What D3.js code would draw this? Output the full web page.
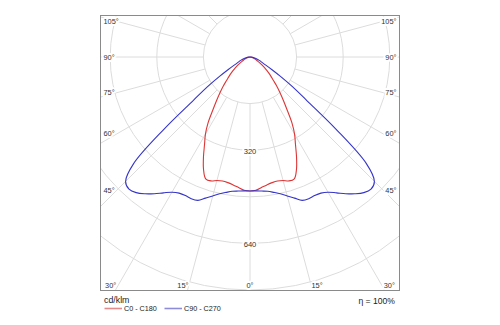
<!DOCTYPE html>
<html>
<head>
<meta charset="utf-8">
<script src="https://cdn.jsdelivr.net/npm/d3@7"></script>
<style>
  html, body { margin: 0; padding: 0; background: #fff; }
  svg { display: block; font-family: "Liberation Sans", Arial, sans-serif; }
</style>
</head>
<body>
<svg id="chart" width="500" height="325"></svg>
<script>
// Luminous intensity distribution, cd/klm, by gamma angle (0 = straight down)
const gammaDeg = [0, 2.5, 5, 7.5, 10, 12.5, 15, 17.5, 20, 22.5, 25, 27.5, 30, 32.5, 35, 37.5,
                  40, 42.5, 45, 47.5, 50, 52.5, 55, 57.5, 60, 65, 70, 75, 80, 85, 90];
const c0c180  = [460, 458, 450, 443, 438, 436, 439, 446, 445, 417, 378, 338, 306, 268, 223, 189,
                 161, 137, 113, 97, 82, 68, 55, 44, 34, 24, 17, 12, 7, 3, 0];
const c90c270 = [460, 460, 462, 465, 472, 481, 494, 508, 524, 527, 525, 527, 536, 553, 573, 592,
                 608, 615, 604, 542, 385, 247, 179, 124, 86, 48, 34, 21, 12, 5, 0];

const seriesNames  = ["C0 - C180", "C90 - C270"];
const seriesColors = ["#dd3535", "#3535c8"];
const legendColors = ["#e48a8a", "#8c8cd8"];

const ringValues   = [160, 320, 480, 640, 800, 960];
const ringLabels   = [320, 640];
const rayAngles    = d3.range(0, 181, 15);
const unitLabel    = "cd/klm";
const efficiency   = "η = 100%";

const svg = d3.select("#chart");
const frame = { x0: 100.5, y0: 15.5, x1: 399.5, y1: 290.5 };
const cx = 250, cy = 57;
const r = d3.scaleLinear().domain([0, 800]).range([0, 233]);

svg.append("defs").append("clipPath").attr("id", "frameClip")
  .append("rect")
  .attr("x", frame.x0).attr("y", frame.y0)
  .attr("width", frame.x1 - frame.x0).attr("height", frame.y1 - frame.y0);

const grid = svg.append("g").attr("clip-path", "url(#frameClip)")
  .append("g").attr("transform", `translate(${cx},${cy})`);

// concentric rings
grid.selectAll("circle.ring").data(ringValues).join("circle")
  .attr("class", "ring")
  .attr("r", d => r(d))
  .attr("fill", "none").attr("stroke", "#dcdcdc").attr("stroke-width", 1);

// radial spokes, both halves, starting at the innermost ring
const toRad = d => d * Math.PI / 180;
const spokes = [];
rayAngles.forEach(g => { spokes.push(g); if (g > 0 && g < 180) spokes.push(-g); });
grid.selectAll("line.spoke").data(spokes).join("line")
  .attr("class", "spoke")
  .attr("x1", g => r(ringValues[0]) * Math.sin(toRad(g)))
  .attr("y1", g => r(ringValues[0]) * Math.cos(toRad(g)))
  .attr("x2", g => r(1400) * Math.sin(toRad(g)))
  .attr("y2", g => r(1400) * Math.cos(toRad(g)))
  .attr("stroke", "#dcdcdc").attr("stroke-width", 1);

// ring value labels on the vertical axis
grid.selectAll("text.ringlbl").data(ringLabels).join("text")
  .attr("class", "ringlbl")
  .attr("x", 0).attr("y", d => r(d) + 1)
  .attr("text-anchor", "middle").attr("dominant-baseline", "central")
  .attr("font-size", 7.6).attr("fill", "#333")
  .attr("stroke", "#fff").attr("stroke-width", 4).attr("paint-order", "stroke")
  .text(d => d);

// angle labels where the spokes leave the frame
const angleLbl = svg.append("g").attr("font-size", 7.4).attr("fill", "#333");
const bottomDy = frame.y1 - cy;
spokes.forEach(g => {
  const a = Math.abs(toRad(g));
  const side = g < 0 ? -1 : 1;
  const bx = Math.tan(a) * bottomDy;
  let x, y, anchor;
  if (a < Math.PI / 2 && bx < (frame.x1 - cx - 5)) {
    x = cx + side * (bx + (g === 0 ? 0 : 4.5));
    y = frame.y1 - 5.5;
    anchor = "middle";
  } else {
    y = cy + 133 / Math.tan(a);
    if (y < frame.y0 + 5 || y > frame.y1 - 12) return;
    x = side > 0 ? frame.x1 - 3 : frame.x0 + 3;
    anchor = side > 0 ? "end" : "start";
  }
  angleLbl.append("text")
    .attr("x", x).attr("y", y)
    .attr("text-anchor", anchor).attr("dominant-baseline", "central")
    .attr("stroke", "#fff").attr("stroke-width", 4).attr("paint-order", "stroke")
    .text(Math.abs(g) + "°");
});

// frame
svg.append("rect")
  .attr("x", frame.x0).attr("y", frame.y0)
  .attr("width", frame.x1 - frame.x0).attr("height", frame.y1 - frame.y0)
  .attr("fill", "none").attr("stroke", "#8a8a8a").attr("stroke-width", 1);

// distribution curves: left half mirrors the right half
const radial = d3.lineRadial()
  .angle(d => d.a)
  .radius(d => r(d.v))
  .curve(d3.curveCatmullRom.alpha(0.5));

function curvePoints(values) {
  const pts = [];
  for (let i = gammaDeg.length - 1; i >= 0; i--) pts.push({ a: Math.PI + toRad(gammaDeg[i]), v: values[i] });
  for (let i = 1; i < gammaDeg.length; i++) pts.push({ a: Math.PI - toRad(gammaDeg[i]), v: values[i] });
  return pts;
}

const curves = svg.append("g").attr("transform", `translate(${cx},${cy})`);
[c0c180, c90c270].forEach((vals, i) => {
  curves.append("path")
    .attr("d", radial(curvePoints(vals)))
    .attr("fill", "none")
    .attr("stroke", seriesColors[i])
    .attr("stroke-width", 1.1);
});

// legend
svg.append("text").attr("x", 104).attr("y", 303)
  .attr("font-size", 8.8).attr("fill", "#222").text(unitLabel);
svg.append("text").attr("x", 395).attr("y", 303.5)
  .attr("text-anchor", "end").attr("font-size", 8.6).attr("fill", "#222").text(efficiency);

const legendX = [104.5, 164.5];
seriesNames.forEach((name, i) => {
  const g = svg.append("g").attr("transform", `translate(${legendX[i]},308.5)`);
  g.append("line").attr("x1", 0).attr("x2", 17.5).attr("y1", 0).attr("y2", 0)
    .attr("stroke", legendColors[i]).attr("stroke-width", 1.6);
  g.append("text").attr("x", 19.5).attr("y", 2.8).attr("font-size", 7.2).attr("fill", "#222").text(name);
});
</script>
</body>
</html>
